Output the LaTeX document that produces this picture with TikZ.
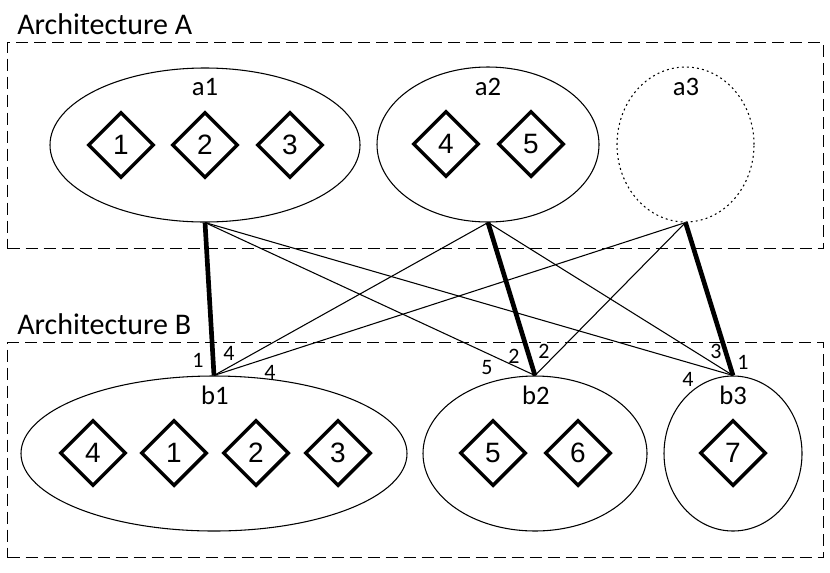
\documentclass[tikz,border=0pt]{standalone}
\usepackage{fontspec}
\setmainfont{Carlito}
\newfontfamily\digitfont{Liberation Sans}
\usetikzlibrary{shapes.geometric}
\begin{document}
\begin{tikzpicture}[x=0.75pt,y=-0.75pt,
 frame/.style={draw, rectangle, line width=1.1pt, dash pattern=on 9pt off 4.5pt, inner sep=0, anchor=north west, minimum width=612pt},
 title/.style={anchor=base west, font=\fontsize{22.5}{26}\selectfont, inner sep=0},
 grp/.style={ellipse, draw, line width=0.8pt, inner sep=0},
 lbl/.style={anchor=base, font=\fontsize{20}{24}\selectfont, inner sep=0},
 item/.style={diamond, draw, line width=2.6pt, minimum width=49.5pt, minimum height=49.5pt, inner sep=0, font=\digitfont\fontsize{21}{24}\selectfont},
 strong/.style={line width=3.5pt},
 weak/.style={line width=0.8pt},
 elbl/.style={font=\fontsize{16.5}{19}\selectfont, inner sep=0}]
\useasboundingbox (0,0) rectangle (830,572);
% frames
\node (boxA) [frame, minimum height=154.5pt] at (7,42) {};
\node (boxB) [frame, minimum height=161.25pt] at (7,342) {};
\node (tA) [title] at (17,34) {Architecture A};
\node (tB) [title] at (17,334) {Architecture B};
% groups A
\node (a1) [grp, minimum width=232.5pt, minimum height=115.5pt] at (205,145) {};
\node (a2) [grp, minimum width=166.5pt, minimum height=116.25pt] at (488,144.5) {};
\node (a3) [grp, dash pattern=on 1.4pt off 2.4pt, minimum width=102.75pt, minimum height=116.25pt] at (685.5,144.5) {};
\node (la1) [lbl] at (205,95) {a1};
\node (la2) [lbl] at (488,95) {a2};
\node (la3) [lbl] at (686,95) {a3};
\node (d1) [item] at (121,145) {1};
\node (d2) [item] at (205,145) {2};
\node (d3) [item] at (290,145) {3};
\node (d4) [item] at (446,144) {4};
\node (d5) [item] at (531,144) {5};
% groups B
\node (b1) [grp, minimum width=289.5pt, minimum height=116.25pt] at (214,453.5) {};
\node (b2) [grp, minimum width=168pt, minimum height=116.25pt] at (535,453.5) {};
\node (b3) [grp, minimum width=103.5pt, minimum height=116.25pt] at (733,453.5) {};
\node (lb1) [lbl] at (215,404) {b1};
\node (lb2) [lbl] at (536,404) {b2};
\node (lb3) [lbl] at (733,404) {b3};
\node (e4) [item] at (93,453) {4};
\node (e1) [item] at (174,453) {1};
\node (e2) [item] at (256,453) {2};
\node (e3) [item] at (338,453) {3};
\node (e5) [item] at (493,453) {5};
\node (e6) [item] at (578,453) {6};
\node (e7) [item] at (733,453) {7};
% connectors
\draw[weak] (a1.south) -- (b2.north);
\draw[weak] (a1.south) -- (b3.north);
\draw[weak] (a2.south) -- (b1.north);
\draw[weak] (a2.south) -- (b3.north);
\draw[weak] (a3.south) -- (b1.north);
\draw[weak] (a3.south) -- (b2.north);
\draw[strong] (a1.south) -- (b1.north);
\draw[strong] (a2.south) -- (b2.north);
\draw[strong] (a3.south) -- (b3.north);
% connector labels
\node (n1) [elbl] at (198,360) {1};
\node (n2) [elbl] at (229,353) {4};
\node (n3) [elbl] at (270,372) {4};
\node (n4) [elbl] at (487,368) {5};
\node (n5) [elbl] at (514,356) {2};
\node (n6) [elbl] at (544,351) {2};
\node (n7) [elbl] at (716,351) {3};
\node (n8) [elbl] at (743,362) {1};
\node (n9) [elbl] at (688,379) {4};
\end{tikzpicture}
\end{document}
